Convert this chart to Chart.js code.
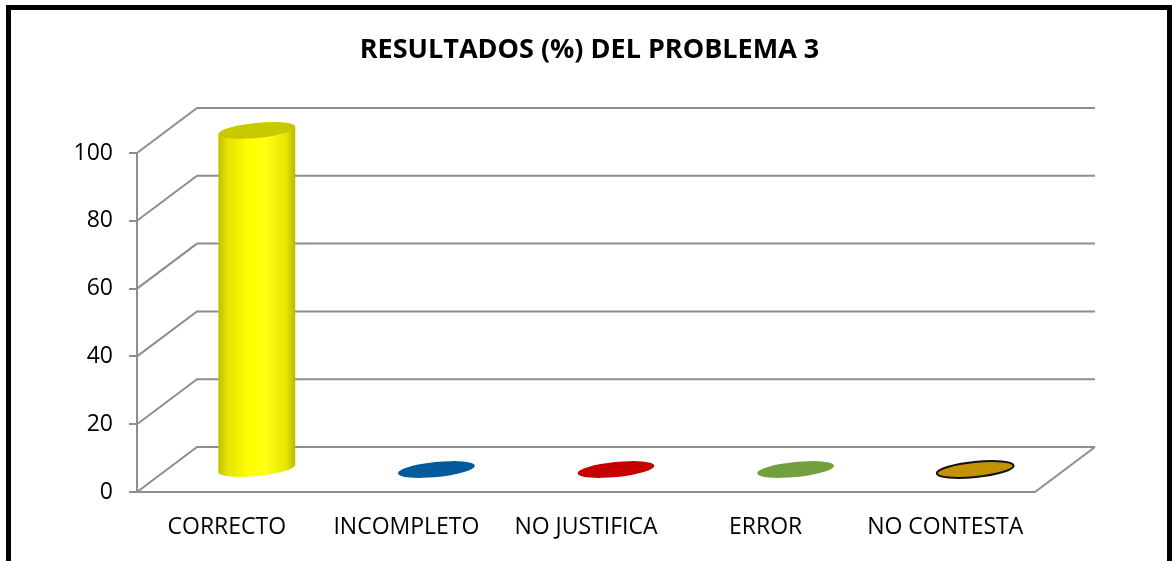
<!DOCTYPE html>
<html>
<head>
<meta charset="utf-8">
<title>Resultados problema 3</title>
<script src="https://cdn.jsdelivr.net/npm/chart.js@4/dist/chart.umd.min.js"></script>
<style>
  html, body { margin: 0; padding: 0; background: #fff; }
  canvas { display: block; }
</style>
</head>
<body>
<canvas id="resultChart" width="1172" height="561"></canvas>
<script>
const chartTitle = 'RESULTADOS (%) DEL PROBLEMA 3';
const categories = ['CORRECTO', 'INCOMPLETO', 'NO JUSTIFICA', 'ERROR', 'NO CONTESTA'];
const percentages = [100, 0, 0, 0, 0];
const yTickStep = 20;
const yMax = 100;

const barColors = ['#FFFF00', '#005A9C', '#C40000', '#72A03F', '#C39200'];
const topColors = ['#C8C800', '#005A9C', '#C40000', '#72A03F', '#C39200'];
const outlineColors = [null, null, null, null, '#111111'];

// depth of the fake 3D box (back wall offset)
const DX = 60;
const DY = -45;
const GRID = '#8e8e8e';

function shade(ctx, x0, x1, i) {
  const g = ctx.createLinearGradient(x0, 0, x1, 0);
  if (i === 0) {
    g.addColorStop(0, '#BEBE00');
    g.addColorStop(0.12, '#E4E400');
    g.addColorStop(0.4, '#FFFF00');
    g.addColorStop(0.62, '#FFFF14');
    g.addColorStop(0.88, '#E6E600');
    g.addColorStop(1, '#B8B800');
  } else {
    g.addColorStop(0, barColors[i]);
    g.addColorStop(1, barColors[i]);
  }
  return g;
}

// point on a rotated ellipse for parametric angle t
function ellPoint(cx, cy, rx, ry, rot, t) {
  const ex = rx * Math.cos(t), ey = ry * Math.sin(t);
  return [cx + ex * Math.cos(rot) - ey * Math.sin(rot),
          cy + ex * Math.sin(rot) + ey * Math.cos(rot)];
}

const depthPlugin = {
  id: 'depth',
  beforeDraw(chart) {
    const ctx = chart.ctx;
    ctx.save();
    ctx.fillStyle = '#fff';
    ctx.fillRect(0, 0, chart.width, chart.height);
    ctx.restore();
  },
  beforeDatasetsDraw(chart) {
    const { ctx, chartArea: a, scales: { y } } = chart;
    ctx.save();
    ctx.strokeStyle = GRID;
    ctx.lineWidth = 2;

    // side wall diagonals + back wall gridlines
    y.ticks.forEach(t => {
      const py = y.getPixelForValue(t.value);
      ctx.beginPath();
      ctx.moveTo(a.left, py);
      ctx.lineTo(a.left + DX, py + DY);
      ctx.lineTo(a.right + DX, py + DY);
      ctx.stroke();
    });

    // front vertical axis
    ctx.beginPath();
    ctx.moveTo(a.left, a.top);
    ctx.lineTo(a.left, a.bottom);
    ctx.stroke();

    // floor front + right edge
    ctx.beginPath();
    ctx.moveTo(a.left, a.bottom);
    ctx.lineTo(a.right, a.bottom);
    ctx.lineTo(a.right + DX, a.bottom + DY);
    ctx.stroke();

    // cylinders, sitting halfway into the depth
    const meta = chart.getDatasetMeta(0);
    const rot = -0.1;
    const ry = 7.5;
    meta.data.forEach((bar, i) => {
      const cx = bar.x + DX / 2;
      const topY = bar.y + DY / 2;
      const baseY = bar.base + DY / 2;
      const rx = bar.width / 2;

      if (baseY - topY > 1) {
        // silhouette: tangent lines between the two ellipses + lower half of the base
        const t0 = Math.atan(-(ry * Math.sin(rot)) / (rx * Math.cos(rot)));
        const tl = ellPoint(cx, topY, rx, ry, rot, t0 + Math.PI);
        const tr = ellPoint(cx, topY, rx, ry, rot, t0);
        ctx.fillStyle = shade(ctx, cx - rx, cx + rx, i);
        ctx.beginPath();
        ctx.moveTo(tl[0], tl[1]);
        ctx.ellipse(cx, baseY, rx, ry, rot, t0 + Math.PI, t0, true);
        ctx.lineTo(tr[0], tr[1]);
        ctx.ellipse(cx, topY, rx, ry, rot, t0, t0 - Math.PI, true);
        ctx.closePath();
        ctx.fill();
      }

      ctx.beginPath();
      ctx.ellipse(cx, topY, rx, ry, rot, 0, Math.PI * 2);
      ctx.fillStyle = topColors[i];
      ctx.fill();
      if (outlineColors[i]) {
        ctx.strokeStyle = outlineColors[i];
        ctx.lineWidth = 2;
        ctx.stroke();
      }
    });

    ctx.restore();
    return false;
  },
  afterDraw(chart) {
    const ctx = chart.ctx;
    ctx.save();
    ctx.fillStyle = '#000';
    ctx.font = 'bold 27px "Open Sans"';
    ctx.textAlign = 'center';
    ctx.textBaseline = 'alphabetic';
    ctx.fillText(chartTitle, 589.5, 58);

    ctx.strokeStyle = '#000';
    ctx.lineWidth = 5;
    ctx.strokeRect(8.5, 7.5, 1161, 600);
    ctx.restore();
  }
};

new Chart(document.getElementById('resultChart'), {
  type: 'bar',
  data: {
    labels: categories,
    datasets: [{
      label: 'Resultados (%)',
      data: percentages,
      backgroundColor: barColors,
      barPercentage: 0.43,
      categoryPercentage: 1
    }]
  },
  options: {
    responsive: false,
    animation: false,
    devicePixelRatio: 1,
    layout: { padding: { left: 0, right: 137, top: 153, bottom: 0 } },
    plugins: {
      legend: { display: false },
      tooltip: { enabled: false },
      title: { display: false }
    },
    scales: {
      x: {
        grid: { display: false, drawTicks: false },
        border: { display: false },
        ticks: {
          color: '#000',
          font: { family: 'Open Sans', size: 23 },
          padding: 22,
          maxRotation: 0
        },
        afterFit(scale) { scale.height = 69; }
      },
      y: {
        min: 0,
        max: yMax,
        grid: {
          display: true,
          drawOnChartArea: false,
          drawTicks: true,
          tickLength: 8,
          color: GRID,
          lineWidth: 2
        },
        border: { display: false },
        ticks: {
          stepSize: yTickStep,
          color: '#000',
          font: { family: 'Open Sans', size: 23 },
          padding: 16
        },
        afterFit(scale) { scale.width = 137; }
      }
    }
  },
  plugins: [depthPlugin]
});
</script>
</body>
</html>
